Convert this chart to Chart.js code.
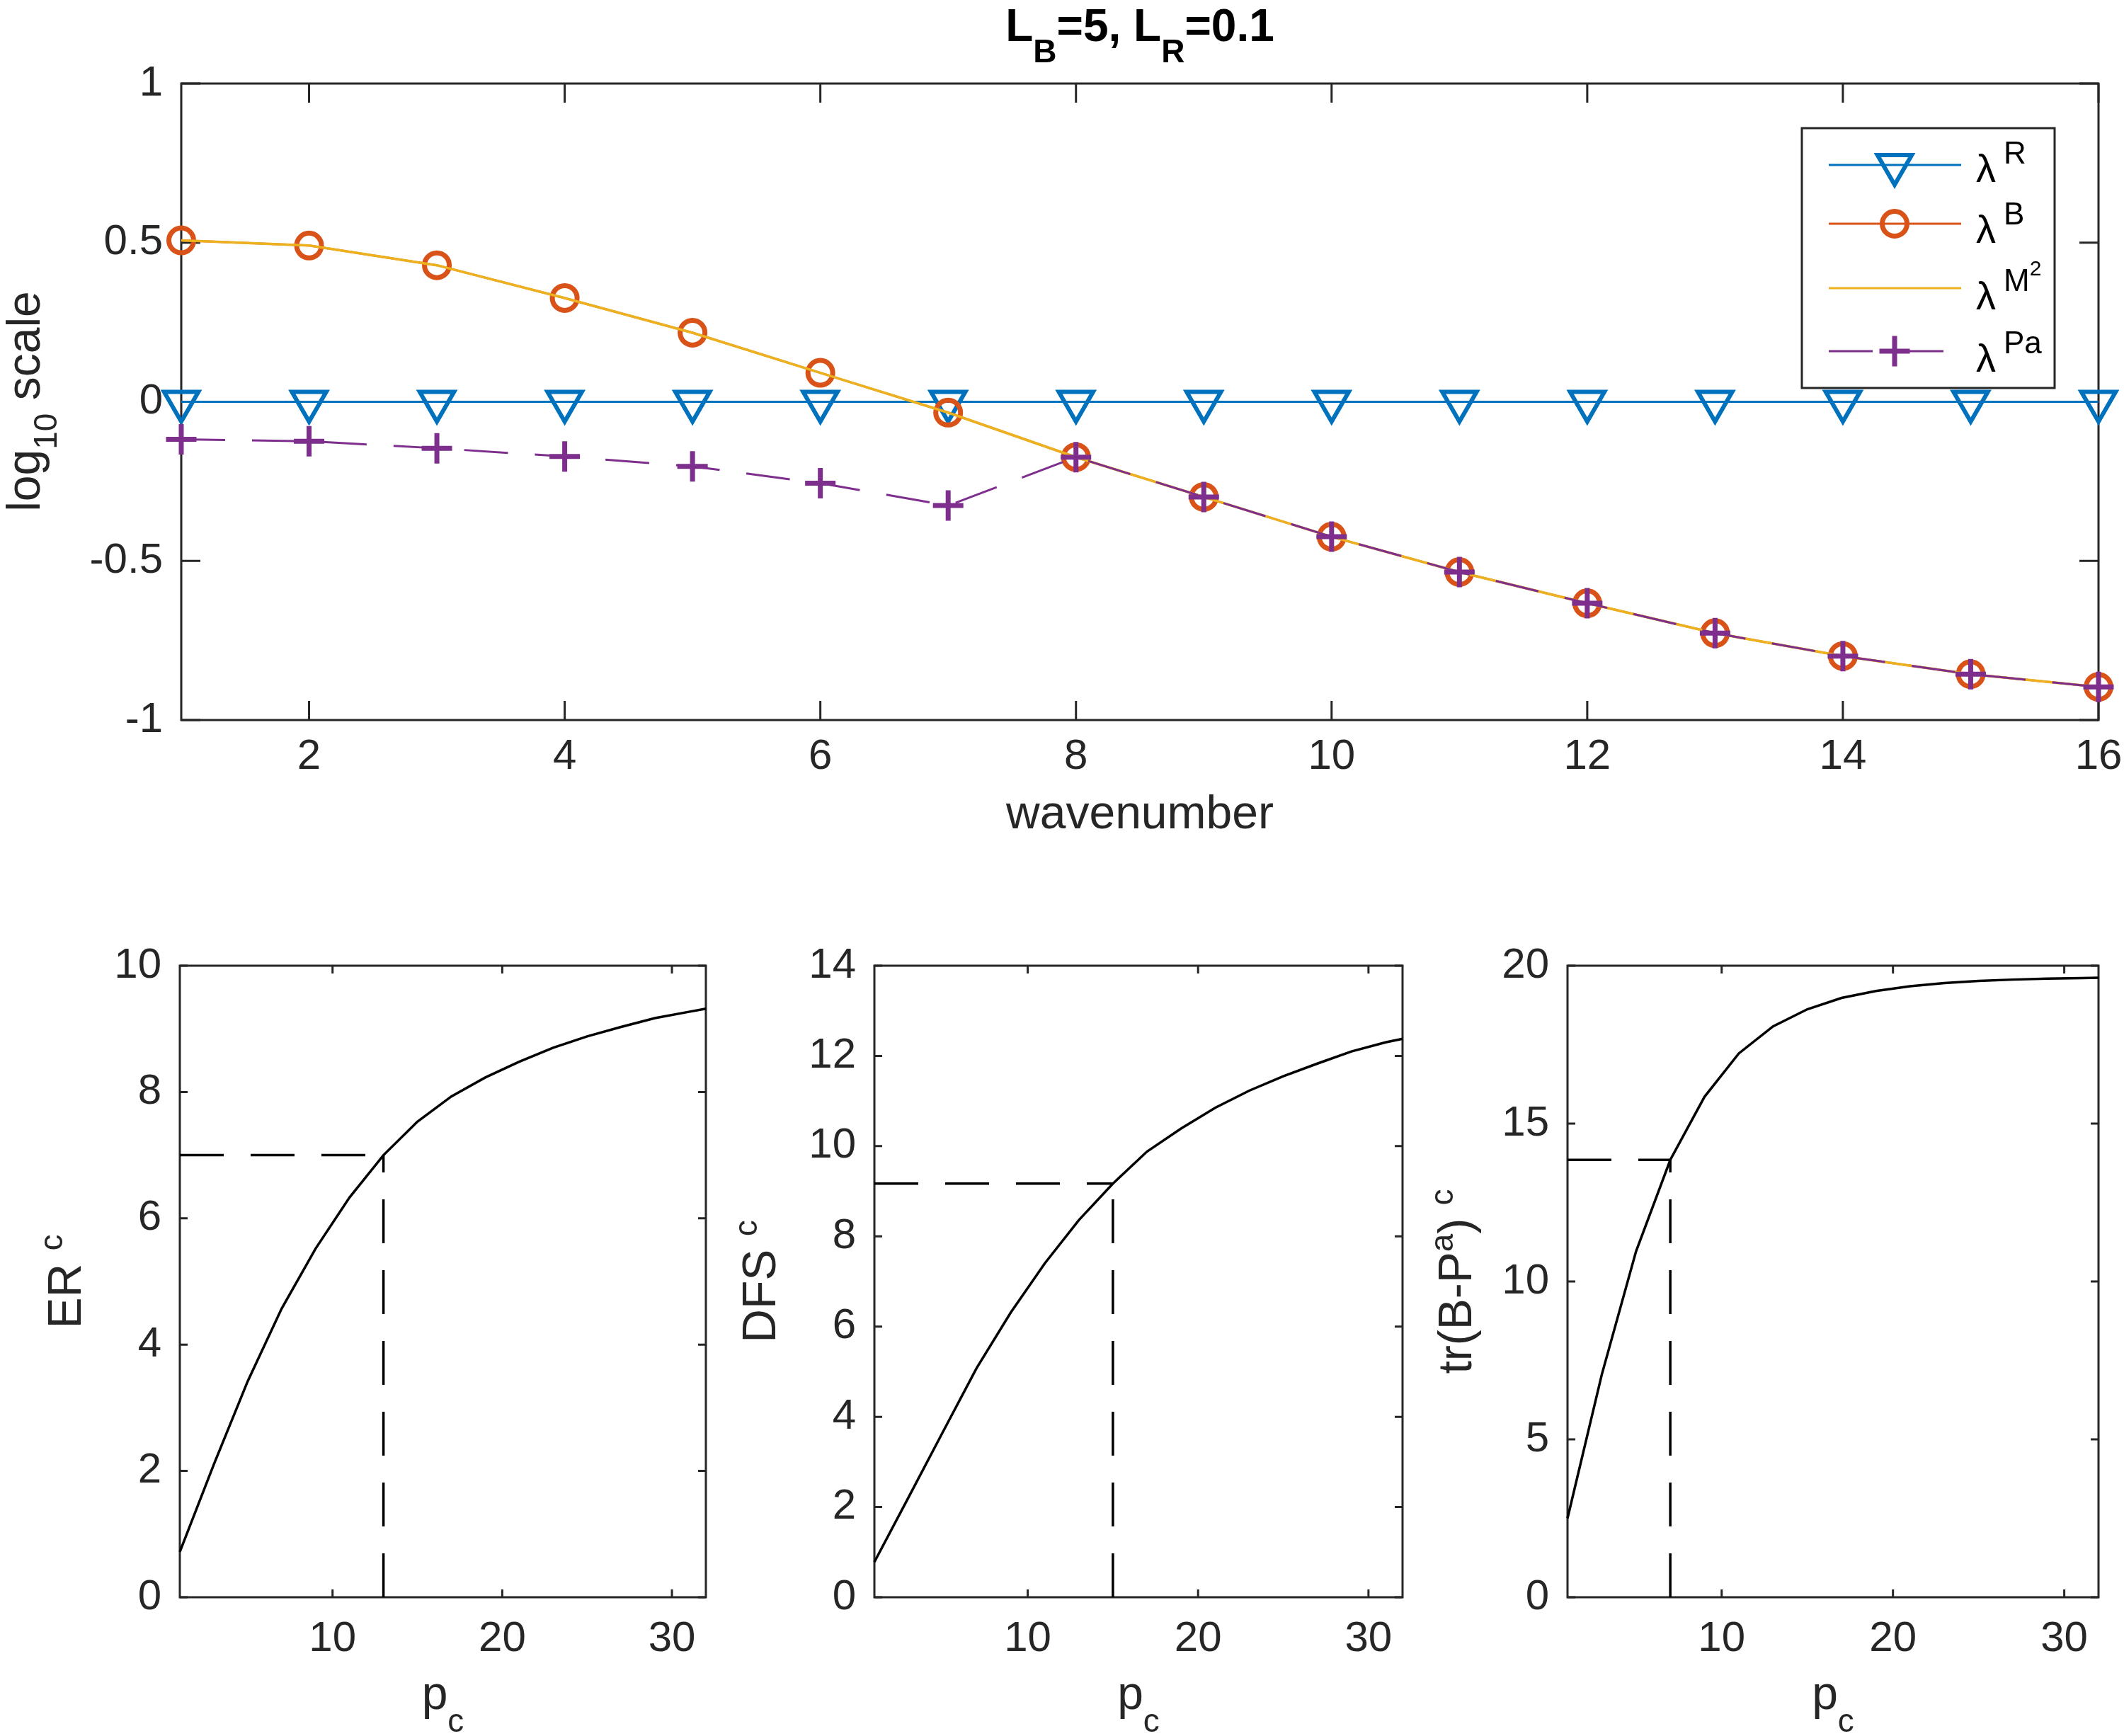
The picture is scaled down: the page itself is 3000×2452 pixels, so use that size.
<!DOCTYPE html>
<html>
<head>
<meta charset="utf-8">
<script src="https://cdn.jsdelivr.net/npm/chart.js@4.4.1/dist/chart.umd.min.js"></script>
<style>
  html, body { margin: 0; padding: 0; background: #ffffff; overflow: hidden; width: 3000px; height: 2452px; }
  .wrap { position: absolute; left: 0; top: 0; width: 3200px; height: 2452px; }
</style>
</head>
<body>
<div class="wrap"><canvas id="c0"></canvas></div>
<div class="wrap"><canvas id="c1"></canvas></div>
<div class="wrap"><canvas id="c2"></canvas></div>
<div class="wrap"><canvas id="c3"></canvas></div>
<script>
// ---------------- data ----------------
const wavenumber = [1, 2, 3, 4, 5, 6, 7, 8, 9, 10, 11, 12, 13, 14, 15, 16];
const lambdaR  = [0, 0, 0, 0, 0, 0, 0, 0, 0, 0, 0, 0, 0, 0, 0, 0];
const lambdaB  = [0.507, 0.491, 0.429, 0.326, 0.217, 0.091, -0.034, -0.174, -0.299, -0.424, -0.535, -0.633, -0.727, -0.799, -0.856, -0.896];
const lambdaM2 = [0.507, 0.491, 0.429, 0.326, 0.217, 0.091, -0.034, -0.174, -0.299, -0.424, -0.535, -0.633, -0.727, -0.799, -0.856, -0.896];
const lambdaPa = [-0.118, -0.124, -0.146, -0.172, -0.203, -0.256, -0.326, -0.174, -0.299, -0.424, -0.535, -0.633, -0.727, -0.799, -0.856, -0.896];
const topXTicks = [2, 4, 6, 8, 10, 12, 14, 16];
const topYTicks = [-1, -0.5, 0, 0.5, 1];

const pc   = [1, 3, 5, 7, 9, 11, 13, 15, 17, 19, 21, 23, 25, 27, 29, 31, 32];
const erc  = [0.72, 2.1, 3.42, 4.57, 5.52, 6.33, 7.0, 7.53, 7.93, 8.23, 8.48, 8.70, 8.88, 9.03, 9.17, 9.27, 9.32];
const dfsc = [0.78, 2.21, 3.65, 5.08, 6.31, 7.40, 8.36, 9.17, 9.88, 10.39, 10.85, 11.23, 11.55, 11.83, 12.1, 12.3, 12.38];
const trc  = [2.5, 7.05, 10.95, 13.85, 15.85, 17.22, 18.08, 18.62, 18.98, 19.2, 19.35, 19.45, 19.52, 19.56, 19.59, 19.61, 19.62];
const erCut  = [13, 7.0];
const dfsCut = [15, 9.17];
const trCut  = [7, 13.85];
const pcTicks  = [10, 20, 30];
const erTicks  = [0, 2, 4, 6, 8, 10];
const dfsTicks = [0, 2, 4, 6, 8, 10, 12, 14];
const trTicks  = [0, 5, 10, 15, 20];

// ---------------- helpers ----------------
const FAM = '"Liberation Sans", Arial, Helvetica, sans-serif';
const AX = '#262626';
const C_BLUE = '#0072BD', C_ORANGE = '#D95319', C_YELLOW = '#EDB120', C_PURPLE = '#7E2F8E';
const CANVAS_W = 3200, CANVAS_H = 2452;

function pts(xs, ys) { return xs.map((x, i) => ({ x: x, y: ys[i] })); }

// parts: [text, kind]  kind 0 normal, 1 subscript, 2 superscript, 3 super-superscript
function drawRich(ctx, parts, x, y, o) {
  const w = o.bold ? 'bold ' : '';
  const sizes = [o.size, o.small, o.small, o.tiny || o.small];
  ctx.save();
  ctx.translate(x, y);
  if (o.rot) ctx.rotate(o.rot);
  ctx.textBaseline = 'alphabetic';
  ctx.textAlign = 'left';
  ctx.fillStyle = o.color || '#000';
  const widths = parts.map(p => { ctx.font = w + sizes[p[1]] + 'px ' + FAM; return ctx.measureText(p[0]).width; });
  const total = widths.reduce((a, b) => a + b, 0);
  let cx = o.align === 'center' ? -total / 2 : (o.align === 'right' ? -total : 0);
  parts.forEach((p, i) => {
    ctx.font = w + sizes[p[1]] + 'px ' + FAM;
    const dy = p[1] === 1 ? (o.drop || 0) : p[1] === 2 ? -(o.rise || 0) : p[1] === 3 ? -(o.rise2 || 0) : 0;
    ctx.fillText(p[0], cx, dy);
    cx += widths[i];
  });
  ctx.restore();
}

function markerPath(ctx, style, x, y, r) {
  ctx.beginPath();
  if (style === 'tri') {
    let rad = Math.PI;
    ctx.moveTo(x + Math.sin(rad) * r, y - Math.cos(rad) * r);
    rad += 2 * Math.PI / 3;
    ctx.lineTo(x + Math.sin(rad) * r, y - Math.cos(rad) * r);
    rad += 2 * Math.PI / 3;
    ctx.lineTo(x + Math.sin(rad) * r, y - Math.cos(rad) * r);
    ctx.closePath();
  } else if (style === 'circ') {
    ctx.arc(x, y, r, 0, Math.PI * 2);
  } else if (style === 'plus') {
    ctx.moveTo(x - r, y); ctx.lineTo(x + r, y);
    ctx.moveTo(x, y - r); ctx.lineTo(x, y + r);
  }
}

const matlabAxes = {
  id: 'matlabAxes',
  beforeDatasetsDraw(chart, args, opts) {
    const { ctx, chartArea: a } = chart;
    const xs = chart.scales.x, ys = chart.scales.y;
    const L = opts.tickLen;
    ctx.save();
    ctx.strokeStyle = AX;
    ctx.lineWidth = 3;
    ctx.setLineDash([]);
    ctx.beginPath();
    xs.ticks.forEach(t => {
      const px = xs.getPixelForValue(t.value);
      ctx.moveTo(px, a.bottom); ctx.lineTo(px, a.bottom - L);
      ctx.moveTo(px, a.top); ctx.lineTo(px, a.top + L);
    });
    ys.ticks.forEach(t => {
      const py = ys.getPixelForValue(t.value);
      ctx.moveTo(a.left, py); ctx.lineTo(a.left + L, py);
      ctx.moveTo(a.right, py); ctx.lineTo(a.right - L, py);
    });
    ctx.stroke();
    ctx.strokeRect(a.left, a.top, a.right - a.left, a.bottom - a.top);
    ctx.restore();
  },
  afterDraw(chart, args, opts) {
    const ctx = chart.ctx;
    (opts.texts || []).forEach(t => drawRich(ctx, t.parts, t.x, t.y, t.o));
    if (opts.legend) {
      const lg = opts.legend;
      ctx.save();
      ctx.fillStyle = '#ffffff';
      ctx.fillRect(lg.box[0], lg.box[1], lg.box[2] - lg.box[0], lg.box[3] - lg.box[1]);
      ctx.strokeStyle = AX;
      ctx.lineWidth = 3;
      ctx.strokeRect(lg.box[0], lg.box[1], lg.box[2] - lg.box[0], lg.box[3] - lg.box[1]);
      lg.items.forEach(it => {
        ctx.save();
        ctx.strokeStyle = it.color;
        ctx.lineWidth = 3;
        ctx.setLineDash(it.dash || []);
        ctx.beginPath();
        ctx.moveTo(lg.x0, it.y); ctx.lineTo(lg.x1, it.y);
        ctx.stroke();
        ctx.setLineDash([]);
        if (it.marker) {
          ctx.lineWidth = it.mw;
          markerPath(ctx, it.marker, lg.xm, it.y, it.mr);
          ctx.stroke();
        }
        ctx.restore();
        drawRich(ctx, [['\u03bb', 0]], lg.xt, it.base, { size: 56, small: 44, color: '#000' });
        drawRich(ctx, it.sup, lg.xs, it.base - 26, { size: 44, small: 44, tiny: 30, rise: 0, rise2: 22, color: '#000' });
      });
      ctx.restore();
    }
  }
};

function makePanel(id, area, xr, yr, xTicks, yTicks, datasets, tickLen, xPad, texts, legend) {
  const YW = 200, XH = 150;
  return new Chart(document.getElementById(id), {
    type: 'line',
    data: { datasets: datasets },
    plugins: [matlabAxes],
    options: {
      responsive: true,
      maintainAspectRatio: false,
      animation: false,
      events: [],
      layout: { padding: { left: area.l - YW, top: area.t, right: CANVAS_W - area.r, bottom: CANVAS_H - area.b - XH } },
      elements: { line: { tension: 0 } },
      scales: {
        x: {
          type: 'linear', position: 'bottom', min: xr[0], max: xr[1],
          afterBuildTicks: s => { s.ticks = xTicks.map(v => ({ value: v })); },
          afterFit: s => { s.height = XH; },
          grid: { display: false, drawTicks: false },
          border: { display: false },
          ticks: { autoSkip: false, maxRotation: 0, padding: xPad, color: AX, font: { family: FAM, size: 60 }, callback: v => String(v) }
        },
        y: {
          type: 'linear', position: 'left', min: yr[0], max: yr[1],
          afterBuildTicks: s => { s.ticks = yTicks.map(v => ({ value: v })); },
          afterFit: s => { s.width = YW; },
          grid: { display: false, drawTicks: false },
          border: { display: false },
          ticks: { autoSkip: false, padding: 26, color: AX, font: { family: FAM, size: 60 }, callback: v => String(v) }
        }
      },
      plugins: {
        legend: { display: false },
        tooltip: { enabled: false },
        matlabAxes: { tickLen: tickLen, texts: texts, legend: legend }
      }
    }
  });
}

// ---------------- top panel ----------------
const topArea = { l: 256, t: 118, r: 2964, b: 1017 };
makePanel('c0', topArea, [1, 16], [-1, 1], topXTicks, topYTicks, [
  { data: pts(wavenumber, lambdaR), borderColor: C_BLUE, borderWidth: 3, pointStyle: 'triangle', pointRotation: 180,
    pointRadius: 28, pointBorderWidth: 6, pointBorderColor: C_BLUE, pointBackgroundColor: 'rgba(0,0,0,0)', order: 4, clip: false },
  { data: pts(wavenumber, lambdaB), borderColor: C_ORANGE, borderWidth: 3, pointStyle: 'circle',
    pointRadius: 17.5, pointBorderWidth: 7, pointBorderColor: C_ORANGE, pointBackgroundColor: 'rgba(0,0,0,0)', order: 3, clip: false },
  { data: pts(wavenumber, lambdaM2), borderColor: C_YELLOW, borderWidth: 3.5, pointRadius: 0, order: 2, clip: false },
  { data: pts(wavenumber, lambdaPa), borderColor: C_PURPLE, borderWidth: 3, borderDash: [62, 38], pointStyle: 'cross',
    pointRadius: 21.5, pointBorderWidth: 7, pointBorderColor: C_PURPLE, pointBackgroundColor: C_PURPLE, order: 1, clip: false }
], 27, 16, [
  { parts: [['L', 0], ['B', 1], ['=5, L', 0], ['R', 1], ['=0.1', 0]], x: 1610, y: 58, o: { size: 64, small: 46, drop: 30, bold: true, align: 'center', color: '#000' } },
  { parts: [['wavenumber', 0]], x: 1610, y: 1170, o: { size: 66, small: 46, align: 'center', color: AX } },
  { parts: [['log', 0], ['10', 1], [' scale', 0]], x: 56, y: 567, o: { size: 66, small: 46, drop: 24, align: 'center', rot: -Math.PI / 2, color: AX } }
], {
  box: [2545, 181, 2902, 548], x0: 2583, x1: 2770, xm: 2676, xt: 2791, xs: 2830,
  items: [
    { y: 233, base: 257, color: C_BLUE, marker: 'tri', mr: 28, mw: 6, sup: [['R', 0]] },
    { y: 316, base: 343, color: C_ORANGE, marker: 'circ', mr: 17.5, mw: 7, sup: [['B', 0]] },
    { y: 407, base: 437, color: C_YELLOW, sup: [['M', 0], ['2', 3]] },
    { y: 496, base: 525, color: C_PURPLE, dash: [62, 38], marker: 'plus', mr: 21.5, mw: 7, sup: [['Pa', 0]] }
  ]
});

// ---------------- bottom panels ----------------
function bottomSets(ys, cut) {
  return [
    { data: pts(pc, ys), borderColor: '#000', borderWidth: 3.5, pointRadius: 0, clip: false },
    { data: [{ x: 1, y: cut[1] }, { x: cut[0], y: cut[1] }], borderColor: '#000', borderWidth: 3.5, borderDash: [62, 38], pointRadius: 0, clip: false },
    { data: [{ x: cut[0], y: 0 }, { x: cut[0], y: cut[1] }], borderColor: '#000', borderWidth: 3.5, borderDash: [62, 38], pointRadius: 0, clip: false }
  ];
}
function bottomTexts(area, yparts, yoff) {
  const cx = (area.l + area.r) / 2, cy = (area.t + area.b) / 2;
  return [
    { parts: [['p', 0], ['c', 1]], x: cx, y: 2414, o: { size: 66, small: 46, drop: 32, align: 'center', color: AX } },
    { parts: yparts, x: area.l + yoff, y: cy, o: { size: 66, small: 46, rise: 26, align: 'center', rot: -Math.PI / 2, color: AX } }
  ];
}
const a1 = { l: 254, t: 1364, r: 997, b: 2256 };
const a2 = { l: 1235, t: 1364, r: 1981, b: 2256 };
const a3 = { l: 2214, t: 1364, r: 2964, b: 2256 };
makePanel('c1', a1, [1, 32], [0, 10], pcTicks, erTicks, bottomSets(erc, erCut), 11, 23,
  bottomTexts(a1, [['ER ', 0], ['c', 2]], -140));
makePanel('c2', a2, [1, 32], [0, 14], pcTicks, dfsTicks, bottomSets(dfsc, dfsCut), 11, 23,
  bottomTexts(a2, [['DFS ', 0], ['c', 2]], -140));
makePanel('c3', a3, [1, 32], [0, 20], pcTicks, trTicks, bottomSets(trc, trCut), 11, 23,
  bottomTexts(a3, [['tr(B-P', 0], ['a', 2], [') ', 0], ['c', 2]], -136));
</script>
</body>
</html>
